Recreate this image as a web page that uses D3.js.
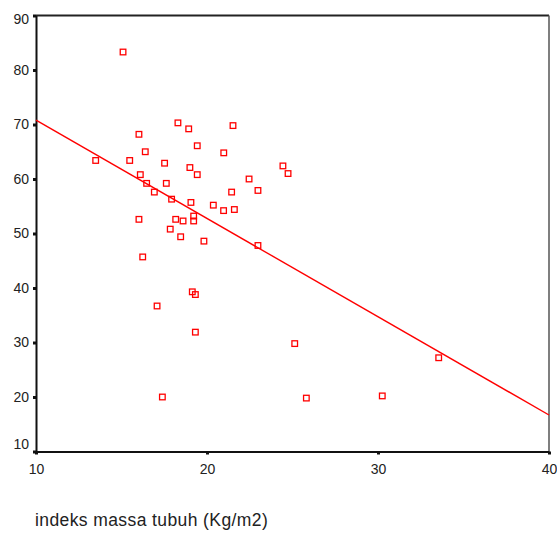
<!DOCTYPE html>
<html><head><meta charset="utf-8">
<script src="https://cdn.jsdelivr.net/npm/d3@7"></script>
<style>body{margin:0;background:#fff}svg{display:block}text{font-family:"Liberation Sans",Arial,sans-serif;fill:#222}</style>
</head><body><svg id="c" width="557" height="533"></svg>
<script>
const bmi = [15.09,13.49,15.48,16.02,16.39,16.10,16.47,16.92,16.02,16.24,17.08,17.39,17.52,17.62,17.93,18.30,18.93,19.43,19.00,19.43,18.17,17.85,18.46,18.60,19.06,19.22,19.22,21.52,20.98,24.44,24.74,22.46,21.44,22.98,20.37,20.97,21.60,19.82,22.98,19.14,19.32,19.32,25.13,25.81,30.25,33.55];
const yVal = [83.3,63.4,63.4,68.2,65.0,60.8,59.2,57.6,52.6,45.7,36.7,20.0,62.9,59.2,56.3,70.3,69.2,66.1,62.1,60.8,52.6,50.8,49.4,52.3,55.7,53.2,52.3,69.8,64.8,62.4,61.0,60.0,57.6,57.9,55.2,54.2,54.4,48.6,47.8,39.3,38.8,31.9,29.8,19.8,20.2,27.2];
const xTicks = [10,20,30,40];
const yTicks = [10,20,30,40,50,60,70,80,90];
const fitLine = [[10,70.8],[40,16.7]];
const xTitle = "indeks massa tubuh (Kg/m2)";

const svg = d3.select("#c");
const x = d3.scaleLinear().domain([10,40]).range([36,549]);
const y = d3.scaleLinear().domain([10,90]).range([451.5,15.5]);

// frame top/right
svg.append("line").attr("x1",x(10)).attr("x2",x(40)).attr("y1",y(90)).attr("y2",y(90)).attr("stroke","#222").attr("stroke-width",2);
svg.append("line").attr("x1",x(40)).attr("x2",x(40)).attr("y1",y(90)).attr("y2",y(10)).attr("stroke","#555").attr("stroke-width",1.5);

const gx = svg.append("g").attr("transform",`translate(0,${y(10)})`)
  .call(d3.axisBottom(x).tickValues(xTicks).tickSize(3).tickPadding(10).tickSizeOuter(0));
const gy = svg.append("g").attr("transform",`translate(${x(10)},0)`)
  .call(d3.axisLeft(y).tickValues(yTicks).tickSize(3).tickPadding(4).tickSizeOuter(0));
[gx,gy].forEach(g=>{
  g.select(".domain").attr("stroke","#111").attr("stroke-width",2);
  g.selectAll(".tick line").attr("stroke","#111").attr("stroke-width",3);
  g.selectAll("text").attr("font-size",14).attr("fill","#222").attr("font-family","Liberation Sans, Arial, sans-serif");
});
gy.selectAll(".tick text").attr("dy",d=> d===10?"-0.2em": d===90?"0.6em":"0.32em");

svg.append("line")
  .attr("x1",x(fitLine[0][0])).attr("y1",y(fitLine[0][1]))
  .attr("x2",x(fitLine[1][0])).attr("y2",y(fitLine[1][1]))
  .attr("stroke","#f00").attr("stroke-width",1.4);

svg.append("g").selectAll("rect").data(bmi.map((v,i)=>[v,yVal[i]])).join("rect")
  .attr("x",d=>x(d[0])-2.8).attr("y",d=>y(d[1])-2.8)
  .attr("width",5.6).attr("height",5.6)
  .attr("fill","none").attr("stroke","#f00").attr("stroke-width",1.3);

svg.append("text").attr("x",35).attr("y",526).attr("font-size",17.5).attr("letter-spacing",0.4).text(xTitle);
</script></body></html>
